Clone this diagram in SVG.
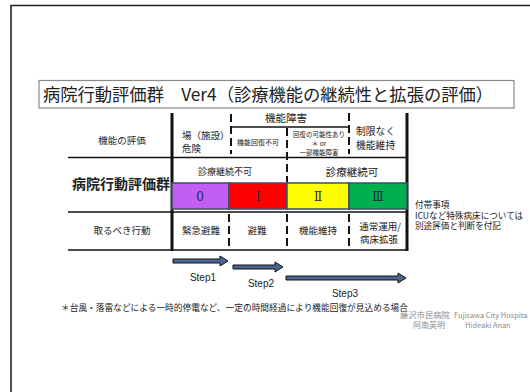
<svg xmlns="http://www.w3.org/2000/svg" width="530" height="392" viewBox="0 0 530 392">
<style>
text{font-family:"Noto Sans CJK JP","Noto Sans",sans-serif;fill:#222}
.c{text-anchor:middle}
.s9{font-size:9.5px}
.s7{font-size:6.5px}
.grid{stroke:#111;stroke-width:1.6;fill:none}
.thick{stroke:#111;stroke-width:3;fill:none}
.dash{stroke:#111;stroke-width:2;stroke-dasharray:8 4;fill:none}
.cell{stroke:#3c4f66;stroke-width:1.5}
.rn{font-family:"DejaVu Serif","Liberation Serif",serif;font-size:12px;fill:#1f2a44;text-anchor:middle}
.arrow{fill:#4a6794;stroke:#111;stroke-width:1}
.step{font-family:"Liberation Sans",Arial,sans-serif;font-size:10px;fill:#222;text-anchor:middle}
.credit{fill:#8a8a8a}
</style>
<rect width="530" height="392" fill="#fff"/>
<g id="frame"><path d="M11,392 V5.5 H530" stroke="#222" stroke-width="1.6" fill="none"/></g>
<g id="title">
<rect x="39" y="80.5" width="475" height="27.5" fill="#fff" stroke="#8a8a8a" stroke-width="1.2"/>
<text x="43" y="100.5" font-size="17.5" textLength="450" lengthAdjust="spacingAndGlyphs" xml:space="preserve">病院行動評価群　Ver4（診療機能の継続性と拡張の評価）</text>
</g>
<g id="connectors">
<line class="grid" x1="68" y1="157.5" x2="407" y2="157.5"/>
<line class="grid" x1="68" y1="212" x2="407" y2="212"/>
<line class="grid" x1="68" y1="250" x2="407" y2="250"/>
<line class="grid" x1="232" y1="127" x2="349" y2="127"/>
<line class="thick" x1="172" y1="113" x2="172" y2="251"/>
<line class="thick" x1="407" y1="113" x2="407" y2="251"/>
<line class="dash" x1="231" y1="114" x2="231" y2="154"/>
<line class="dash" x1="229" y1="214" x2="229" y2="250"/>
<line class="dash" x1="287" y1="128" x2="287" y2="182"/>
<line class="dash" x1="287" y1="214" x2="287" y2="250"/>
<line class="dash" x1="349" y1="113" x2="349" y2="154"/>
<line class="dash" x1="349" y1="214" x2="349" y2="250"/>
</g>
<g id="row-eval">
<text class="c s9" x="122" y="143.5">機能の評価</text>
<text x="182" y="138.5" font-size="9.5">場（施設）</text>
<text x="182" y="151.5" font-size="9.5">危険</text>
<text class="c" x="286" y="121.5" font-size="10.5">機能障害</text>
<text class="c" x="258" y="145" font-size="7">機能回復不可</text>
<text class="c s7" x="319" y="136.5">回復の可能性あり</text>
<text class="c s7" x="319" y="145.5">＊ or</text>
<text class="c s7" x="319" y="154.5">一部機能障害</text>
<text x="356" y="135" font-size="9.8">制限なく</text>
<text x="356" y="148.5" font-size="9.8">機能維持</text>
</g>
<g id="row-group">
<text x="72" y="189" font-size="14" font-weight="bold">病院行動評価群</text>
<text class="c" x="225" y="175" font-size="9">診療継続不可</text>
<text class="c" x="352" y="176" font-size="10.5">診療継続可</text>
</g>
<g id="level-0"><rect class="cell" x="172" y="183" width="57" height="26" fill="#c05ef5"/><text class="rn" x="200" y="201" font-family="Liberation Sans">0</text></g>
<g id="level-1"><rect class="cell" x="229" y="183" width="58" height="26" fill="#ff0000"/><text class="rn" x="258" y="201">Ⅰ</text></g>
<g id="level-2"><rect class="cell" x="287" y="183" width="62" height="26" fill="#ffff00"/><text class="rn" x="318" y="201">Ⅱ</text></g>
<g id="level-3"><rect class="cell" x="349" y="183" width="58" height="26" fill="#00b050"/><text class="rn" x="378" y="201">Ⅲ</text></g>
<g id="row-action">
<text class="c s9" x="122" y="234">取るべき行動</text>
<text class="c s9" x="201" y="234">緊急避難</text>
<text class="c s9" x="257" y="234">避難</text>
<text class="c s9" x="318" y="234">機能維持</text>
<text class="c s9" x="380" y="229.5">通常運用/</text>
<text class="c s9" x="379" y="242.5">病床拡張</text>
</g>
<g id="note" font-size="8.6">
<text x="415" y="208">付帯事項</text>
<text x="415" y="218.5">ICUなど特殊病床については</text>
<text x="415" y="229">別途評価と判断を付記</text>
</g>
<g id="steps">
<path class="arrow" d="M173,259 H220 V256 L228,261 L220,266 V263 H173 Z"/>
<path class="arrow" d="M233,265 H275 V262 L283,267 L275,272 V269 H233 Z"/>
<path class="arrow" d="M286,276 H398 V273 L406,278 L398,283 V280 H286 Z"/>
<text class="step" x="203" y="281">Step1</text>
<text class="step" x="261" y="287">Step2</text>
<text class="step" x="345" y="297">Step3</text>
</g>
<g id="footnote"><text x="61" y="311" font-size="8.7" textLength="347" lengthAdjust="spacingAndGlyphs">＊台風・落雷などによる一時的停電など、一定の時間経過により機能回復が見込める場合</text></g>
<g id="credit">
<text class="credit" x="400" y="318" font-size="8.3">藤沢市民病院</text>
<text class="credit" x="454" y="318" font-size="7.4" font-family="Liberation Sans,sans-serif">Fujisawa City Hospita</text>
<text class="credit" x="413" y="328" font-size="8">阿南英明</text>
<text class="credit" x="465" y="328" font-size="7.4" font-family="Liberation Sans,sans-serif">Hideaki Anan</text>
</g>
</svg>
